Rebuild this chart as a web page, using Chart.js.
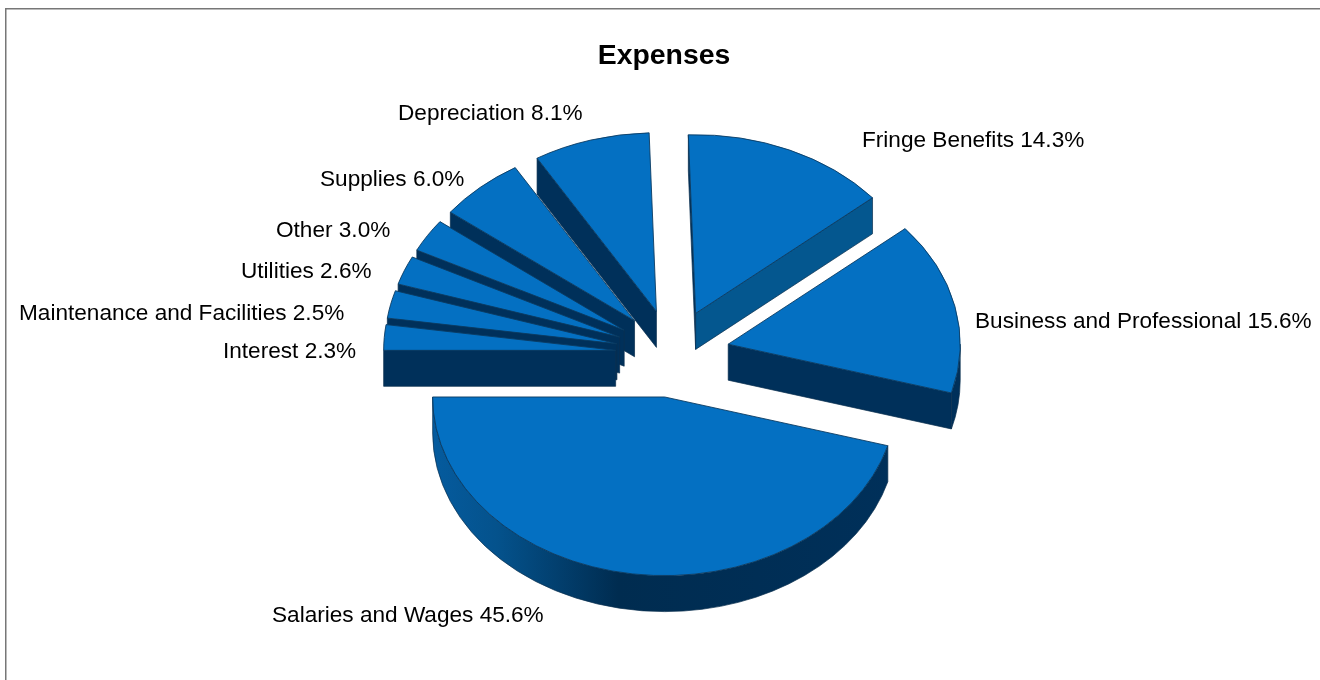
<!DOCTYPE html>
<html>
<head>
<meta charset="utf-8">
<title>Expenses</title>
<script src="https://cdn.jsdelivr.net/npm/chart.js@4/dist/chart.umd.min.js"></script>
<style>
    html, body { margin: 0; padding: 0; background: #fff; }
    canvas { display: block; }
</style>
</head>
<body>
<canvas id="myChart" width="1320" height="680"></canvas>
<script>
var categories = ['Fringe Benefits', 'Business and Professional', 'Salaries and Wages', 'Interest',
    'Maintenance and Facilities', 'Utilities', 'Other', 'Supplies', 'Depreciation'];
var expenses = [14.3, 15.6, 45.6, 2.3, 2.5, 2.6, 3.0, 6.0, 8.1];

// where each label's left edge and baseline sit on the page
var labelX = [862, 975, 272, 223, 19, 241, 276, 320, 398];
var labelY = [147, 328, 622, 358, 320, 278, 237, 186, 120];

var squash = 0.77;     // tilt of the pie
var depth = 36;        // height of the slices
var explode = 57;      // how far each slice is pulled out
var shiftX = 8.5;      // title is centred at 664, the pie a bit to the right

var topColor = '#0470c2';
var darkWall = '#00305a';
var midWall = '#04578f';

function edgeWall(ctx, ox, oy, r, a, nx, ny) {
    if (ny <= 0) return; // faces away from the viewer
    var px = ox + r * Math.cos(a);
    var py = oy + squash * r * Math.sin(a);
    ctx.fillStyle = nx > 0 ? midWall : darkWall;
    ctx.beginPath();
    ctx.moveTo(ox, oy);
    ctx.lineTo(px, py);
    ctx.lineTo(px, py + depth);
    ctx.lineTo(ox, oy + depth);
    ctx.closePath();
    ctx.fill();
    ctx.stroke();
}

function roundWall(ctx, ox, oy, r, a0, a1) {
    // only the part of the rim that faces the viewer
    var from = Math.max(a0, 0);
    var to = Math.min(a1, Math.PI);
    if (to <= from) return;
    var g = ctx.createLinearGradient(ox - r, 0, ox + r, 0);
    g.addColorStop(0, '#055b9e');
    g.addColorStop(0.14, '#04528c');
    g.addColorStop(0.4, '#002c50');
    g.addColorStop(1, '#00305a');
    ctx.fillStyle = g;
    ctx.beginPath();
    ctx.ellipse(ox, oy, r, r * squash, 0, from, to);
    ctx.ellipse(ox, oy + depth, r, r * squash, 0, to, from, true);
    ctx.closePath();
    ctx.fill();
    ctx.stroke();
}

var pie3d = {
    id: 'pie3d',
    beforeDraw: function(chart) {
        var ctx = chart.ctx;
        ctx.save();
        ctx.fillStyle = '#777';
        ctx.fillRect(5, 8, 1315, 1.5);
        ctx.fillRect(5, 8, 1.5, 672);
        ctx.restore();
    },
    beforeDatasetDraw: function(chart) {
        var ctx = chart.ctx;
        var arcs = chart.getDatasetMeta(0).data.slice();
        function mid(a) { return (a.startAngle + a.endAngle) / 2; }
        arcs.sort(function(a, b) { return Math.sin(mid(a)) - Math.sin(mid(b)); });

        arcs.forEach(function(arc) {
            var h = mid(arc);
            var ox = arc.x + shiftX + Math.cos(h) * explode;
            var oy = arc.y + squash * Math.sin(h) * explode;
            var r = arc.outerRadius;
            var a0 = arc.startAngle;
            var a1 = arc.endAngle;

            ctx.save();
            ctx.strokeStyle = '#0a2f4f';
            ctx.lineWidth = 0.7;
            ctx.lineJoin = 'round';
            edgeWall(ctx, ox, oy, r, a0, Math.sin(a0), -Math.cos(a0));
            edgeWall(ctx, ox, oy, r, a1, -Math.sin(a1), Math.cos(a1));
            roundWall(ctx, ox, oy, r, a0, a1);
            ctx.restore();

            ctx.save();
            ctx.translate(ox, oy);
            ctx.scale(1, squash);
            ctx.translate(-arc.x, -arc.y);
            arc.draw(ctx);
            ctx.restore();
        });
        return false;
    },
    afterDatasetsDraw: function(chart) {
        var ctx = chart.ctx;
        ctx.save();
        ctx.font = '22.6px "Liberation Sans", Arial, sans-serif';
        ctx.fillStyle = '#000';
        ctx.textAlign = 'left';
        ctx.textBaseline = 'alphabetic';
        categories.forEach(function(name, i) {
            ctx.fillText(name + ' ' + expenses[i].toFixed(1) + '%', labelX[i], labelY[i]);
        });
        ctx.restore();
    }
};

var ctx = document.getElementById('myChart').getContext('2d');
var chart = new Chart(ctx, {
    type: 'pie',
    data: {
        labels: categories,
        datasets: [{
            data: expenses,
            backgroundColor: topColor,
            borderColor: '#0a3a60',
            borderWidth: 1
        }]
    },
    options: {
        responsive: false,
        animation: false,
        rotation: -1.8,
        radius: 232,
        layout: { padding: { left: 8, right: 0, top: 0, bottom: 46.08 } },
        plugins: {
            legend: { display: false },
            tooltip: { enabled: false },
            title: {
                display: true,
                text: 'Expenses',
                color: '#000',
                font: { family: '"Liberation Sans", Arial, sans-serif', size: 28.4, weight: 'bold' },
                padding: { top: 39, bottom: 0 }
            }
        }
    },
    plugins: [pie3d]
});
</script>
</body>
</html>
